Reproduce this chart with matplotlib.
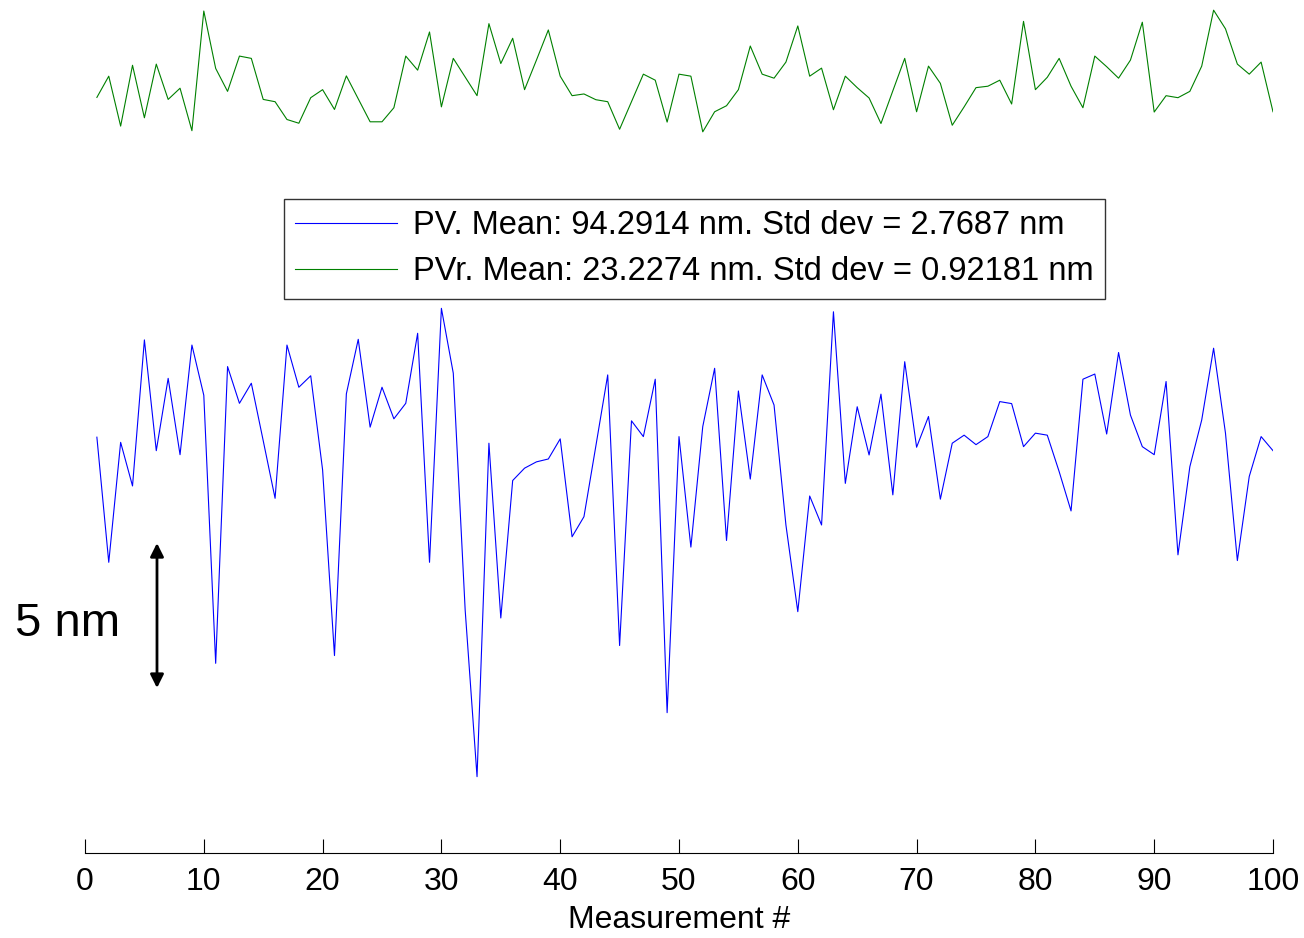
import numpy as np
import matplotlib
matplotlib.use("Agg")
import matplotlib.pyplot as plt

plt.rcParams['font.family'] = ['Liberation Sans', 'DejaVu Sans']

measurement = list(range(1, 101))

pv = [94.77, 90.41, 94.59, 93.07, 98.16, 94.30, 96.82, 94.16, 97.98, 96.23,
      86.89, 97.23, 95.95, 96.65, 94.65, 92.64, 97.98, 96.51, 96.91, 93.63,
      87.16, 96.28, 98.18, 95.12, 96.51, 95.41, 95.95, 98.39, 90.41, 99.26,
      97.00, 88.75, 82.94, 94.56, 88.47, 93.26, 93.69, 93.91, 94.01, 94.71,
      91.30, 92.00, 94.46, 96.94, 87.51, 95.34, 94.79, 96.79, 85.17, 94.79,
      90.94, 95.14, 97.17, 91.17, 96.38, 93.31, 96.94, 95.89, 91.71, 88.69,
      92.72, 91.71, 99.14, 93.16, 95.83, 94.15, 96.27, 92.76, 97.40, 94.42,
      95.49, 92.61, 94.56, 94.84, 94.51, 94.79, 96.01, 95.94, 94.44, 94.91,
      94.84, 93.57, 92.20, 96.79, 96.97, 94.88, 97.72, 95.54, 94.44, 94.16,
      96.71, 90.67, 93.74, 95.37, 97.87, 94.91, 90.47, 93.40, 94.79, 94.30]

pvr = [22.71, 23.45, 21.71, 23.83, 22.00, 23.87, 22.64, 23.03, 21.55, 25.72,
       23.72, 22.92, 24.15, 24.07, 22.64, 22.56, 21.94, 21.81, 22.70, 22.98,
       22.29, 23.46, 22.66, 21.86, 21.86, 22.35, 24.15, 23.66, 24.99, 22.38,
       24.07, 23.42, 22.77, 25.28, 23.89, 24.77, 22.98, 24.01, 25.06, 23.45,
       22.77, 22.83, 22.63, 22.56, 21.60, 22.56, 23.52, 23.31, 21.85, 23.52,
       23.45, 21.51, 22.21, 22.42, 22.98, 24.50, 23.52, 23.38, 23.94, 25.20,
       23.45, 23.73, 22.28, 23.45, 23.05, 22.69, 21.80, 22.94, 24.07, 22.21,
       23.80, 23.20, 21.74, 22.38, 23.05, 23.10, 23.31, 22.48, 25.36, 22.98,
       23.41, 24.07, 23.10, 22.35, 24.15, 23.78, 23.38, 24.01, 25.33, 22.20,
       22.77, 22.70, 22.92, 23.80, 25.75, 25.10, 23.87, 23.52, 23.94, 22.21]

pv_label = "PV. Mean: 94.2914 nm. Std dev = 2.7687 nm"
pvr_label = "PVr. Mean: 23.2274 nm. Std dev = 0.92181 nm"
xticks = [0, 10, 20, 30, 40, 50, 60, 70, 80, 90, 100]
xlabel = "Measurement #"
scale_label = "5 nm"

pvr_offset = 83.9  # vertical display offset of the PVr trace

W, H = 1304, 938
fig = plt.figure(figsize=(W / 100, H / 100), dpi=100)
ax = fig.add_axes([85 / W, (H - 853) / H, (1273 - 85) / W, (853 - 5) / H])

ax.plot(measurement, pv, color='#0000ff', lw=0.8, label=pv_label)
ax.plot(measurement, np.array(pvr) + pvr_offset, color='#008000', lw=0.8, label=pvr_label)

ax.set_xlim(0, 100)
ax.set_ylim(80.28, 109.83)
ax.set_xticks(xticks)
ax.set_xticklabels([str(t) for t in xticks], fontsize=23)
ax.tick_params(axis='x', direction='in', length=10, width=0.8, pad=10)
ax.set_yticks([])
for s in ['top', 'right', 'left']:
    ax.spines[s].set_visible(False)
ax.spines['bottom'].set_linewidth(0.8)
ax.set_xlabel(xlabel, fontsize=23, labelpad=6)

# 5 nm scale arrow
ax.annotate('', xy=(6.06, 86.03), xytext=(6.06, 91.08),
            arrowprops=dict(arrowstyle='<|-|>', color='black', lw=2,
                            mutation_scale=20, shrinkA=0, shrinkB=0))
fig.text(15 / W, 1 - 624 / H, scale_label, fontsize=34, ha='left', va='center')

leg = ax.legend(loc='upper left', bbox_to_anchor=((284 - 85) / (1273 - 85), 1 - (199 - 5) / (853 - 5)),
                fontsize=23.5, frameon=True, fancybox=False, edgecolor='black',
                handlelength=3.1, borderpad=0.35, labelspacing=0.45, handletextpad=0.5,
                borderaxespad=0)
leg.get_frame().set_linewidth(1.0)

fig.savefig('out.png', dpi=100)
